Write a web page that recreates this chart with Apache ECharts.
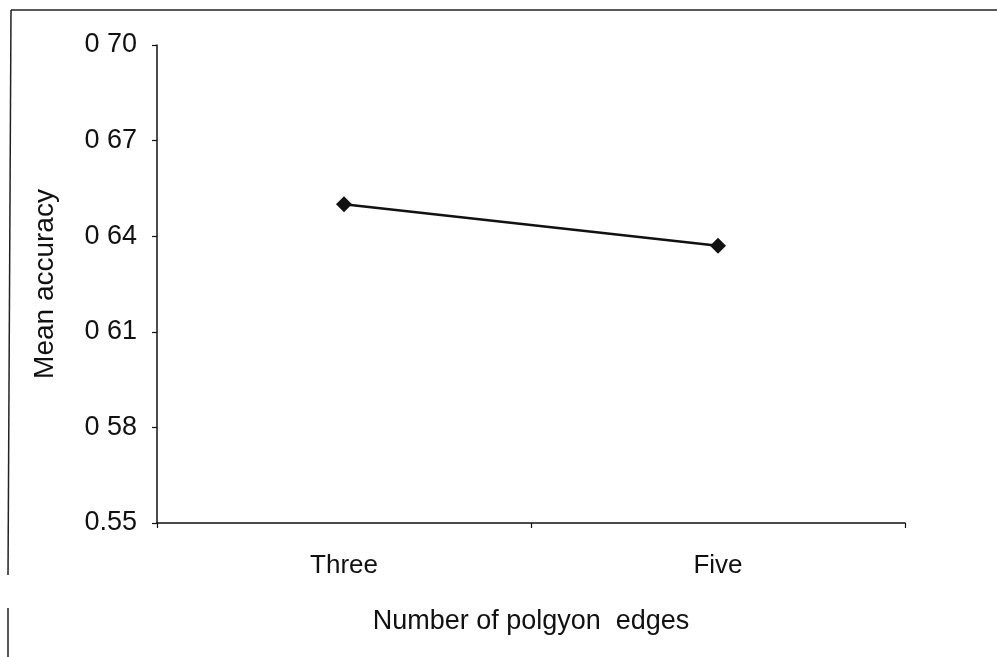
<!DOCTYPE html>
<html>
<head>
<meta charset="utf-8">
<script src="https://cdn.jsdelivr.net/npm/echarts@6/dist/echarts.min.js"></script>
<style>
html,body{margin:0;padding:0;background:#fff;}
#chart{width:997px;height:657px;}
</style>
</head>
<body>
<div id="chart"></div>
<script>
const categories = ["Three", "Five"];
const meanAccuracy = [0.650, 0.637];
const yTickValues = [0.55, 0.58, 0.61, 0.64, 0.67, 0.70];
const yTickLabels = ["0.55", "0 58", "0 61", "0 64", "0 67", "0 70"];
const xAxisTitle = "Number of polgyon  edges";
const yAxisTitle = "Mean accuracy";

const ink = "#111";
const font = "'Liberation Sans', Arial, sans-serif";

const chart = echarts.init(document.getElementById('chart'), null, {renderer: 'canvas'});
chart.setOption({
  backgroundColor: '#fff',
  animation: false,
  grid: {left: 157, right: 92, top: 45, bottom: 134, containLabel: false},
  xAxis: {
    type: 'category',
    data: categories,
    boundaryGap: true,
    axisLine: {lineStyle: {color: ink, width: 1.5}},
    axisTick: {show: true, inside: false, length: 5, lineStyle: {color: ink, width: 1.2}},
    axisLabel: {color: ink, fontFamily: font, fontSize: 26, margin: 30},
    name: xAxisTitle,
    nameLocation: 'middle',
    nameGap: 85,
    nameTextStyle: {color: ink, fontFamily: font, fontSize: 27}
  },
  yAxis: {
    type: 'value',
    min: yTickValues[0],
    max: yTickValues[yTickValues.length - 1],
    interval: 0.03,
    splitLine: {show: false},
    axisLine: {show: true, lineStyle: {color: ink, width: 1.5}},
    axisTick: {show: true, inside: false, length: 5, lineStyle: {color: ink, width: 1.2}},
    axisLabel: {
      color: ink, fontFamily: font, fontSize: 27, margin: 20,
      formatter: function (v) {
        const i = Math.round((v - yTickValues[0]) / 0.03);
        return yTickLabels[i] !== undefined ? yTickLabels[i] : '';
      }
    },
    name: yAxisTitle,
    nameLocation: 'middle',
    nameGap: 98,
    nameRotate: 90,
    nameTextStyle: {color: ink, fontFamily: font, fontSize: 28}
  },
  series: [{
    type: 'line',
    data: meanAccuracy,
    symbol: 'diamond',
    symbolSize: 16,
    showSymbol: true,
    lineStyle: {color: ink, width: 2.5},
    itemStyle: {color: ink}
  }],
  graphic: [
    {type: 'line', shape: {x1: 11, y1: 10, x2: 997, y2: 10}, style: {stroke: '#222', lineWidth: 1.5}},
    {type: 'line', shape: {x1: 11, y1: 10, x2: 8, y2: 575}, style: {stroke: '#222', lineWidth: 1.5}},
    {type: 'line', shape: {x1: 8, y1: 608, x2: 8, y2: 657}, style: {stroke: '#222', lineWidth: 1.5}}
  ]
});
</script>
</body>
</html>
